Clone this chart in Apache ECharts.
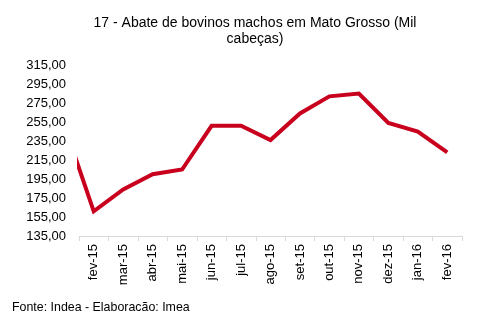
<!DOCTYPE html>
<html>
<head>
<meta charset="utf-8">
<script src="https://cdn.jsdelivr.net/npm/echarts@6/dist/echarts.min.js"></script>
<style>
  html, body { margin: 0; padding: 0; background: #ffffff; }
  #chart { width: 477px; height: 330px; }
</style>
</head>
<body>
<div id="chart"></div>
<script>
// Monthly slaughter of male cattle in Mato Grosso (thousand head)
const months = ['fev-15', 'mar-15', 'abr-15', 'mai-15', 'jun-15', 'jul-15', 'ago-15',
                'set-15', 'out-15', 'nov-15', 'dez-15', 'jan-16', 'fev-16'];
const slaughter = [161, 184, 200, 205, 251, 251, 236, 264, 282, 285, 254, 245, 223];
// previous month (jan-15), only its segment toward fev-15 enters the plot
const priorMonthValue = 252;
const yTicks = { min: 135, max: 315, step: 20 };

const FONT = '"Liberation Sans", Arial, sans-serif';

// Points on a hidden numeric axis so the line segment from the previous month gets clipped
const points = [[-1, priorMonthValue]].concat(slaughter.map((v, i) => [i, v]));

const chart = echarts.init(document.getElementById('chart'), null, { renderer: 'canvas' });
chart.setOption({
  animation: false,
  backgroundColor: '#ffffff',
  title: {
    text: '17 - Abate de bovinos machos em Mato Grosso (Mil\ncabeças)',
    left: 250, top: 10, textAlign: 'center',
    textStyle: { fontFamily: FONT, fontSize: 14, fontWeight: 'normal', color: '#000', lineHeight: 16 }
  },
  graphic: [{
    type: 'text', left: 12, top: 302,
    style: { text: 'Fonte: Indea - Elaboracão: Imea', font: '12.4px ' + FONT, fill: '#000' }
  }],
  grid: { left: 79, top: 65, width: 383, height: 171, containLabel: false },
  xAxis: [{
    type: 'category',
    data: months,
    boundaryGap: true,
    axisLine: { lineStyle: { color: '#d9d9d9', width: 1 } },
    axisTick: { show: true, length: 5, lineStyle: { color: '#d9d9d9' } },
    axisLabel: { rotate: 90, margin: 8, fontFamily: FONT, fontSize: 13, color: '#000', interval: 0 },
    splitLine: { show: false }
  }, {
    type: 'value',
    min: -0.5, max: months.length - 0.5,
    show: false,
    splitLine: { show: false }
  }],
  yAxis: {
    type: 'value',
    min: yTicks.min, max: yTicks.max, interval: yTicks.step,
    axisLine: { show: false },
    axisTick: { show: false },
    splitLine: { show: false },
    axisLabel: {
      margin: 13, fontFamily: FONT, fontSize: 13, color: '#000',
      formatter: v => v.toFixed(2).replace('.', ',')
    }
  },
  series: [{
    type: 'line',
    xAxisIndex: 1,
    data: points,
    clip: true,
    showSymbol: false,
    symbol: 'none',
    lineStyle: { color: '#c8001e', width: 4, join: 'miter' },
    itemStyle: { color: '#c8001e' }
  }]
});
</script>
</body>
</html>
